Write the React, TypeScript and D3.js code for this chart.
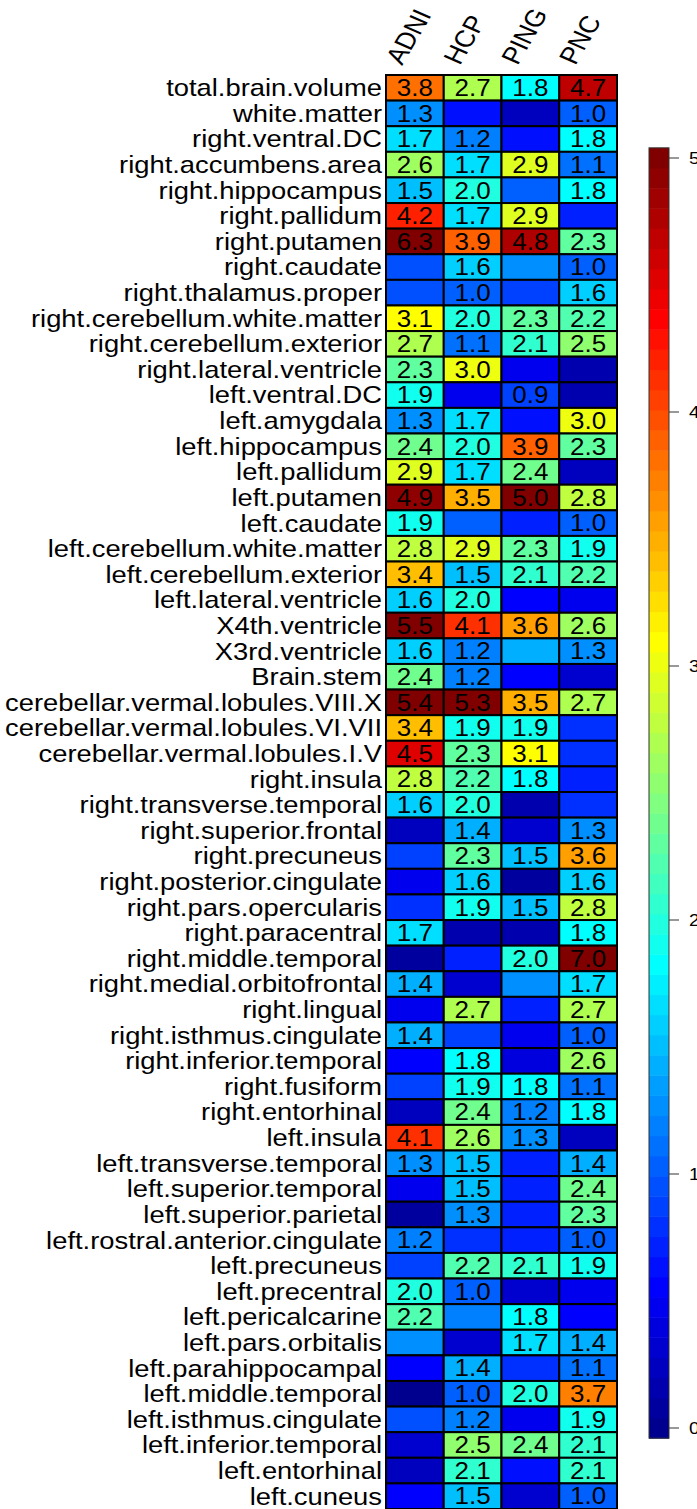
import React from "react";
import * as d3 from "d3";

// Brain regions, top to bottom
const regions = [
  "total.brain.volume", "white.matter", "right.ventral.DC", "right.accumbens.area",
  "right.hippocampus", "right.pallidum", "right.putamen", "right.caudate",
  "right.thalamus.proper", "right.cerebellum.white.matter", "right.cerebellum.exterior",
  "right.lateral.ventricle", "left.ventral.DC", "left.amygdala", "left.hippocampus",
  "left.pallidum", "left.putamen", "left.caudate", "left.cerebellum.white.matter",
  "left.cerebellum.exterior", "left.lateral.ventricle", "X4th.ventricle", "X3rd.ventricle",
  "Brain.stem", "cerebellar.vermal.lobules.VIII.X", "cerebellar.vermal.lobules.VI.VII",
  "cerebellar.vermal.lobules.I.V", "right.insula", "right.transverse.temporal",
  "right.superior.frontal", "right.precuneus", "right.posterior.cingulate",
  "right.pars.opercularis", "right.paracentral", "right.middle.temporal",
  "right.medial.orbitofrontal", "right.lingual", "right.isthmus.cingulate",
  "right.inferior.temporal", "right.fusiform", "right.entorhinal", "left.insula",
  "left.transverse.temporal", "left.superior.temporal", "left.superior.parietal",
  "left.rostral.anterior.cingulate", "left.precuneus", "left.precentral",
  "left.pericalcarine", "left.pars.orbitalis", "left.parahippocampal",
  "left.middle.temporal", "left.isthmus.cingulate", "left.inferior.temporal",
  "left.entorhinal", "left.cuneus",
];

const studies = ["ADNI", "HCP", "PING", "PNC"];

// Statistic per region, one array per study
const adniValues = [
  3.8, 1.3, 1.7, 2.6, 1.5, 4.2, 6.3, 0.95, 0.95, 3.1, 2.7, 2.3, 1.9, 1.3, 2.4, 2.9,
  4.9, 1.9, 2.8, 3.4, 1.6, 5.5, 1.6, 2.4, 5.4, 3.4, 4.5, 2.8, 1.6, 0.24, 0.85, 0.5,
  0.8, 1.7, 0.06, 1.4, 0.5, 1.4, 0.55, 0.85, 0.2, 4.1, 1.3, 0.45, 0.1, 1.2, 0.9,
  2.0, 2.2, 1.3, 0.55, 0.02, 0.95, 0.28, 0.24, 0.55,
];
const hcpValues = [
  2.7, 0.63, 1.2, 1.7, 2.0, 1.7, 3.9, 1.6, 1.0, 2.0, 1.1, 3.0, 0.5, 1.7, 2.0, 1.7,
  3.5, 1.0, 2.9, 1.5, 2.0, 4.1, 1.2, 1.2, 5.3, 1.9, 2.3, 2.2, 2.0, 1.4, 2.3, 1.6,
  1.9, 0.16, 0.75, 0.28, 2.7, 0.85, 1.8, 1.9, 2.4, 2.6, 1.5, 1.5, 1.3, 0.8, 2.2,
  1.0, 1.2, 0.32, 1.4, 1.0, 1.2, 2.5, 2.1, 1.5,
];
const pingValues = [
  1.8, 0.24, 0.65, 2.9, 1.0, 2.9, 4.8, 1.3, 0.9, 2.3, 2.1, 0.5, 0.9, 0.65, 3.9, 2.4,
  5.0, 0.7, 2.3, 2.1, 0.55, 3.6, 1.4, 0.55, 3.5, 1.9, 3.1, 1.8, 0.16, 0.28, 1.5, 0.1,
  1.5, 0.16, 2.0, 1.3, 0.75, 0.45, 0.42, 1.8, 1.2, 1.3, 0.75, 0.75, 0.75, 0.75, 2.1,
  0.28, 1.8, 1.7, 0.8, 2.0, 0.5, 2.4, 0.65, 0.28,
];
const pncValues = [
  4.7, 1.0, 1.8, 1.1, 1.8, 0.7, 2.3, 1.0, 1.6, 2.2, 2.5, 0.16, 0.16, 3.0, 2.3, 0.2,
  2.8, 1.0, 1.9, 2.2, 0.45, 2.6, 1.3, 0.28, 2.7, 0.8, 0.8, 0.7, 0.8, 1.3, 3.6, 1.6,
  2.8, 1.8, 7.0, 1.7, 2.7, 1.0, 2.6, 1.1, 1.8, 0.24, 1.4, 2.4, 2.3, 1.0, 1.9, 0.45,
  0.55, 1.4, 1.1, 3.7, 1.9, 2.1, 2.1, 1.0,
];

// 1 = value printed in the cell
const adniShown = [
  1, 1, 1, 1, 1, 1, 1, 0, 0, 1, 1, 1, 1, 1, 1, 1, 1, 1, 1, 1, 1, 1, 1, 1, 1, 1, 1, 1,
  1, 0, 0, 0, 0, 1, 0, 1, 0, 1, 0, 0, 0, 1, 1, 0, 0, 1, 0, 1, 1, 0, 0, 0, 0, 0, 0, 0,
];
const hcpShown = [
  1, 0, 1, 1, 1, 1, 1, 1, 1, 1, 1, 1, 0, 1, 1, 1, 1, 0, 1, 1, 1, 1, 1, 1, 1, 1, 1, 1,
  1, 1, 1, 1, 1, 0, 0, 0, 1, 0, 1, 1, 1, 1, 1, 1, 1, 0, 1, 1, 0, 0, 1, 1, 1, 1, 1, 1,
];
const pingShown = [
  1, 0, 0, 1, 0, 1, 1, 0, 0, 1, 1, 0, 1, 0, 1, 1, 1, 0, 1, 1, 0, 1, 0, 0, 1, 1, 1, 1,
  0, 0, 1, 0, 1, 0, 1, 0, 0, 0, 0, 1, 1, 1, 0, 0, 0, 0, 1, 0, 1, 1, 0, 1, 0, 1, 0, 0,
];
const pncShown = [
  1, 1, 1, 1, 1, 0, 1, 1, 1, 1, 1, 0, 0, 1, 1, 0, 1, 1, 1, 1, 0, 1, 1, 0, 1, 0, 0, 0,
  0, 1, 1, 1, 1, 1, 1, 1, 1, 1, 1, 1, 1, 0, 1, 1, 1, 1, 1, 0, 0, 1, 1, 1, 1, 1, 1, 1,
];

const colorTicks = [0, 1, 2, 3, 4, 5];
const colorLimits = [-0.04, 5.04];
const nColors = 64;

// MATLAB-style jet palette with m colours
function jet(m: number): string[] {
  const n = Math.ceil(m / 4);
  const u: number[] = [];
  for (let i = 1; i <= n; i++) u.push(i / n);
  for (let i = 1; i < n; i++) u.push(1);
  for (let i = n; i >= 1; i--) u.push(i / n);
  const g0 = Math.ceil(n / 2) - (m % 4 === 1 ? 1 : 0);
  const out = Array.from({ length: m }, () => [0, 0, 0]);
  u.forEach((val, j) => {
    const g = g0 + j + 1;
    const r = g + n;
    const b = g - n;
    if (r >= 1 && r <= m) out[r - 1][0] = val;
    if (g >= 1 && g <= m) out[g - 1][1] = val;
    if (b >= 1 && b <= m) out[b - 1][2] = val;
  });
  return out.map(([r, g, b]) =>
    d3.rgb(Math.round(r * 255), Math.round(g * 255), Math.round(b * 255)).formatHex()
  );
}

const W = 697;
const H = 1509;
const FONT = "'Liberation Sans', Arial, Helvetica, sans-serif";

export default function App() {
  const palette = jet(nColors);
  const color = d3.scaleQuantize<string>().domain(colorLimits).range(palette);

  const table = [
    { values: adniValues, shown: adniShown },
    { values: hcpValues, shown: hcpShown },
    { values: pingValues, shown: pingShown },
    { values: pncValues, shown: pncShown },
  ];

  const x = d3.scaleBand<string>().domain(studies).range([386, 617]).padding(0);
  const y = d3.scaleBand<string>().domain(regions).range([75, 1509]).padding(0);

  const cb = d3.scaleLinear().domain([0, 5]).range([1428, 158]);
  const step = (colorLimits[1] - colorLimits[0]) / nColors;
  const cbX = 649;
  const cbW = 20;

  const labelFs = 24;
  const labelSx = 1.14;
  const cellFs = 23;
  const cellSx = 1.13;

  return (
    <svg
      width={W}
      height={H}
      style={{ position: "absolute", left: 0, top: 0, background: "#fff" }}
      fontFamily={FONT}
    >
      {/* study headers */}
      {studies.map((s) => (
        <text
          key={s}
          transform={`translate(${x(s)! + x.bandwidth() / 2 - 13},66) scale(1.16,1) rotate(-63)`}
          fontSize={24}
          fill="#000"
        >
          {s}
        </text>
      ))}

      {/* region labels */}
      {regions.map((r) => (
        <text
          key={r}
          transform={`translate(382,${y(r)! + y.bandwidth() / 2 + labelFs * 0.35}) scale(${labelSx},1)`}
          textAnchor="end"
          fontSize={labelFs}
          fill="#000"
        >
          {r}
        </text>
      ))}

      {/* cells */}
      {studies.map((s, si) =>
        regions.map((r, ri) => {
          const v = table[si].values[ri];
          return (
            <rect
              key={`${s}-${r}`}
              x={x(s)!}
              y={y(r)!}
              width={x.bandwidth()}
              height={y.bandwidth()}
              fill={color(v)}
              stroke="#000"
              strokeWidth={2}
            />
          );
        })
      )}

      {/* cell values */}
      {studies.map((s, si) =>
        regions.map((r, ri) => {
          if (!table[si].shown[ri]) return null;
          const v = table[si].values[ri];
          return (
            <text
              key={`t-${s}-${r}`}
              transform={`translate(${x(s)! + x.bandwidth() / 2},${y(r)! + y.bandwidth() / 2 + cellFs * 0.36}) scale(${cellSx},1)`}
              textAnchor="middle"
              fontSize={cellFs}
              fill="#000"
            >
              {d3.format(".1f")(v)}
            </text>
          );
        })
      )}

      {/* colour bar */}
      {palette.map((c, i) => {
        const lo = colorLimits[0] + i * step;
        const hi = lo + step;
        return (
          <rect
            key={`cb-${i}`}
            x={cbX}
            y={cb(hi)}
            width={cbW}
            height={cb(lo) - cb(hi) + 0.5}
            fill={c}
          />
        );
      })}
      <rect
        x={cbX}
        y={cb(colorLimits[1])}
        width={cbW}
        height={cb(colorLimits[0]) - cb(colorLimits[1])}
        fill="none"
        stroke="#333"
        strokeWidth={1}
      />
      {colorTicks.map((t) => (
        <g key={`tick-${t}`}>
          <line x1={cbX + cbW} x2={cbX + cbW + 10} y1={cb(t)} y2={cb(t)} stroke="#333" strokeWidth={1} />
          <text
            transform={`translate(689,${cb(t) + 17 * 0.36}) scale(1.13,1)`}
            fontSize={17}
            fill="#000"
          >
            {t}
          </text>
        </g>
      ))}
    </svg>
  );
}
